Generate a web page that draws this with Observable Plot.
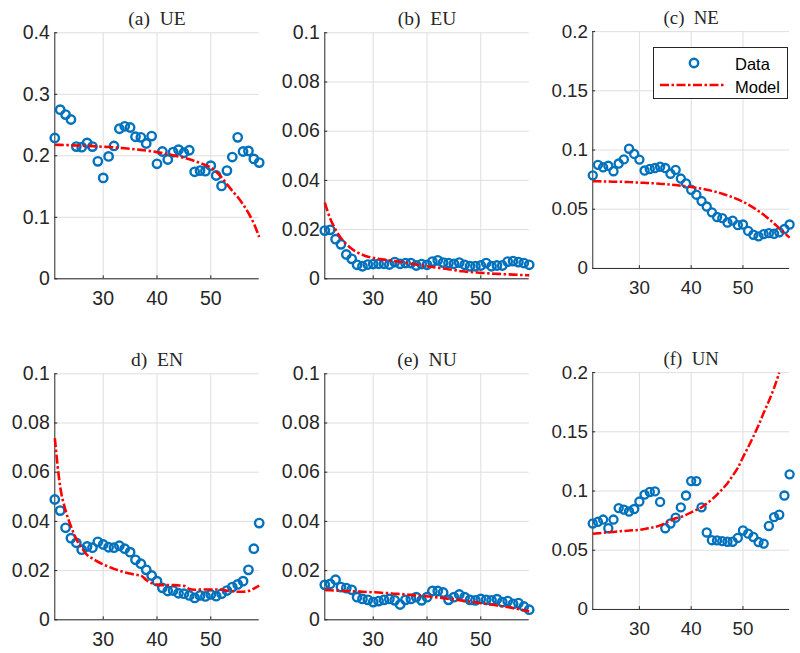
<!DOCTYPE html>
<html><head><meta charset="utf-8">
<script src="https://cdn.jsdelivr.net/npm/d3@7"></script>
<script src="https://cdn.jsdelivr.net/npm/@observablehq/plot@0.6"></script>
<style>
html,body{margin:0;padding:0;background:#fff;overflow:hidden;}
#root{position:relative;width:800px;height:653px;overflow:hidden;background:#fff;}
.panel{position:absolute;}
.legend{position:absolute;left:652.5px;top:47px;width:135px;height:52px;border:1px solid #262626;background:#fff;box-sizing:border-box;}
</style></head><body><div id="root"></div>
<script>
const ages = [21,22,23,24,25,26,27,28,29,30,31,32,33,34,35,36,37,38,39,40,41,42,43,44,45,46,47,48,49,50,51,52,53,54,55,56,57,58,59];
const xTicks = [30,40,50];

const ueData = [.229,.275,.267,.259,.215,.214,.221,.215,.191,.164, .199,.216,.244,.248,.246,.231,.230,.220,.232,.187, .207,.194,.206,.210,.205,.209,.174,.176,.175,.184, .168,.151,.176,.198,.230,.207,.208,.195,.189];
const ueModel = [.218,.2178,.2175,.2172,.2168,.2165,.2161,.2157,.2152,.2147, .2142,.2136,.213,.2123,.2115,.2106,.2096,.2085,.2073,.206, .2045,.2028,.201,.199,.1967,.1942,.1914,.1883,.1848,.181, .174,.165,.154,.143,.133,.121,.107,.090,.068];

const euData = [.0196,.0199,.0161,.014,.0099,.0081,.0057,.0051,.0058,.006, .0061,.0061,.0058,.0068,.0061,.0064,.0064,.0054,.006,.0057, .007,.0075,.0066,.0064,.0061,.0066,.0057,.0051,.0051,.0054, .0064,.0051,.0054,.0054,.007,.0072,.0068,.0064,.0057];
const euModel = [.031,.0245,.02,.0166,.0141,.0122,.0108,.0098,.009,.0085, .0081,.0078,.0075,.0072,.0069,.0066,.0062,.0058,.0054,.0051, .0048,.0045,.0042,.0039,.0036,.0032,.003,.0028,.0026,.0024, .0023,.0021,.002,.0019,.0018,.0017,.0016,.0015,.0014];

const neData = [.0786,.0875,.0854,.0867,.0821,.0886,.0921,.1011,.0967,.0919, .0827,.084,.0848,.0859,.0848,.08,.0832,.0759,.0718,.0664, .0623,.0569,.0523,.0474,.0434,.0425,.0388,.0404,.0366,.0371, .0317,.0285,.0271,.029,.0298,.0293,.0306,.0333,.0371];
const neModel = [.0737,.0736,.0735,.0734,.0733,.0732,.0731,.0729,.0727,.0725, .0723,.0721,.0718,.0715,.0712,.0708,.0704,.0699,.0694,.0688, .0681,.0674,.0665,.0655,.0644,.0631,.0617,.0601,.0583,.0563, .054,.0514,.0485,.0453,.0418,.038,.034,.030,.026];

const enData = [.0489,.0444,.0374,.0332,.0313,.0285,.0298,.0293,.0317,.0306, .0295,.0293,.0301,.0289,.0275,.0244,.0228,.0203,.018,.0157, .013,.0117,.0119,.0108,.0106,.0099,.0089,.0099,.0095,.0103, .0096,.0106,.0119,.0133,.0144,.0157,.0203,.0289,.0393];
const enModel = [.0738,.0541,.0445,.038,.0328,.0292,.0264,.0249,.0236,.0225, .0216,.0207,.02,.0193,.0188,.0183,.018,.0162,.0149,.0143, .0141,.0141,.0141,.014,.0138,.0125,.0122,.0123,.0123,.0123, .0123,.0123,.0118,.0116,.0114,.0114,.0117,.0127,.0139];

const nuData = [.0142,.0146,.0163,.0133,.0129,.0122,.0092,.0085,.0081,.0072, .0076,.0081,.0085,.0079,.0062,.0081,.0085,.0092,.0079,.0092, .0117,.0117,.0111,.0081,.0092,.0103,.0092,.0081,.0079,.0085, .0081,.0079,.0084,.0072,.0076,.0065,.0068,.0054,.0041];
const nuModel = [.0121,.012,.0119,.0118,.0117,.0116,.0115,.0114,.0113,.0112, .0111,.0109,.0108,.0106,.0105,.0103,.0101,.0099,.0098,.0096, .0093,.0091,.0088,.0086,.0083,.008,.0077,.0074,.0071,.0068, .0065,.0062,.0058,.0055,.0052,.0048,.0044,.0039,.0034];

const unData = [.0726,.074,.0759,.0686,.0759,.0856,.0843,.0827,.0848,.0911, .097,.0992,.0997,.0908,.0686,.0726,.0775,.0862,.0962,.1084, .1084,.0862,.065,.0585,.0583,.0577,.0572,.0572,.0604,.0667, .064,.0612,.0569,.0556,.0705,.078,.080,.0962,.1141];
const unModel = [.064,.0643,.0647,.0651,.0655,.0659,.0663,.0666,.0669,.0672, .0679,.0688,.0697,.071,.073,.075,.077,.078,.0798,.082, .084,.0862,.0895,.093,.097,.1015,.1065,.113,.1195,.1285, .137,.146,.1555,.166,.176,.187,.2];

const ticks04 = [0,0.1,0.2,0.3,0.4];
const ticks01 = [0,0.02,0.04,0.06,0.08,0.1];
const ticks02 = [0,0.05,0.1,0.15,0.2];

const panels = [
  {title:"(a)\u2002UE", data:ueData, model:ueModel, yMax:0.4, yTicks:ticks04, left:0, top:0},
  {title:"(b)\u2002EU", data:euData, model:euModel, yMax:0.1, yTicks:ticks01, left:270, top:0},
  {title:"(c)\u2002NE", data:neData, model:neModel, yMax:0.2, yTicks:ticks02, left:540, top:0},
  {title:"d)\u2002EN", data:enData, model:enModel, yMax:0.1, yTicks:ticks01, left:0, top:341},
  {title:"(e)\u2002NU", data:nuData, model:nuModel, yMax:0.1, yTicks:ticks01, left:270, top:341},
  {title:"(f)\u2002UN", data:unData, model:unModel, yMax:0.2, yTicks:ticks02, left:540, top:341}
];

const root = document.getElementById("root");
const axisColor = "#262626";
const dash = "9,2.5,2.5,2.5";
const tickFont = 19.5;

for (const p of panels) {
  const pts = ages.map((a, i) => ({age: a, v: p.data[i]}));
  const line = p.model.map((v, i) => ({age: ages[i], v}));
  const chart = Plot.plot({
    width: 270, height: 320,
    marginLeft: 54.3, marginRight: 11.3, marginTop: 32.3, marginBottom: 41.7,
    style: {fontFamily: "'Liberation Sans', Arial, sans-serif", fontSize: tickFont + "px", color: axisColor, background: "transparent", overflow: "visible"},
    x: {domain: [21, 59], label: null},
    y: {domain: [0, p.yMax], label: null},
    marks: [
      Plot.gridX(xTicks, {stroke: "#dedede", strokeOpacity: 1, strokeWidth: 1}),
      Plot.gridY(p.yTicks, {stroke: "#dedede", strokeOpacity: 1, strokeWidth: 1}),
      Plot.ruleX(xTicks, {x: d => d, y1: 0, y2: p.yMax * 0.012, stroke: axisColor, strokeWidth: 1}),
      Plot.ruleY(p.yTicks, {y: d => d, x1: 21, x2: 21.55, stroke: axisColor, strokeWidth: 1}),
      Plot.ruleX([21], {stroke: axisColor, strokeWidth: 1}),
      Plot.ruleY([0], {stroke: axisColor, strokeWidth: 1}),
      Plot.axisX(xTicks, {tickSize: 0, tickPadding: 12.5, fill: axisColor, fontSize: tickFont}),
      Plot.axisY(p.yTicks, {tickSize: 0, tickPadding: 5, fill: axisColor, fontSize: tickFont, tickFormat: d => String(d)}),
      Plot.dot(pts, {x: "age", y: "v", r: 4.2, stroke: "#0072BD", strokeWidth: 2.4, fill: "none"}),
      Plot.line(line, {x: "age", y: "v", stroke: "#FF0000", strokeWidth: 2.6, strokeDasharray: dash, strokeLinecap: "butt", strokeLinejoin: "miter", curve: "monotone-x"}),
      Plot.text([p.title], {frameAnchor: "top", lineAnchor: "middle", dy: -14, fontFamily: "'Liberation Serif', 'DejaVu Serif', serif", fontSize: 19.5, fill: axisColor})
    ]
  });
  const div = document.createElement("div");
  div.className = "panel";
  div.style.left = p.left + "px";
  div.style.top = p.top + "px";
  div.appendChild(chart);
  root.appendChild(div);
}

// legend (panel c)
const legend = document.createElement("div");
legend.className = "legend";
legend.innerHTML = `<svg width="133" height="50" style="display:block;font-family:'Liberation Sans',Arial,sans-serif;font-size:16.5px">
  <circle cx="40" cy="15" r="4.2" fill="none" stroke="#0072BD" stroke-width="2.4"></circle>
  <text x="81" y="16" dominant-baseline="central" fill="#000">Data</text>
  <line x1="6" y1="37" x2="70" y2="37" stroke="#FF0000" stroke-width="2.6" stroke-dasharray="${dash}"></line>
  <text x="81" y="38.5" dominant-baseline="central" fill="#000">Model</text>
</svg>`;
root.appendChild(legend);
</script>
</body></html>
